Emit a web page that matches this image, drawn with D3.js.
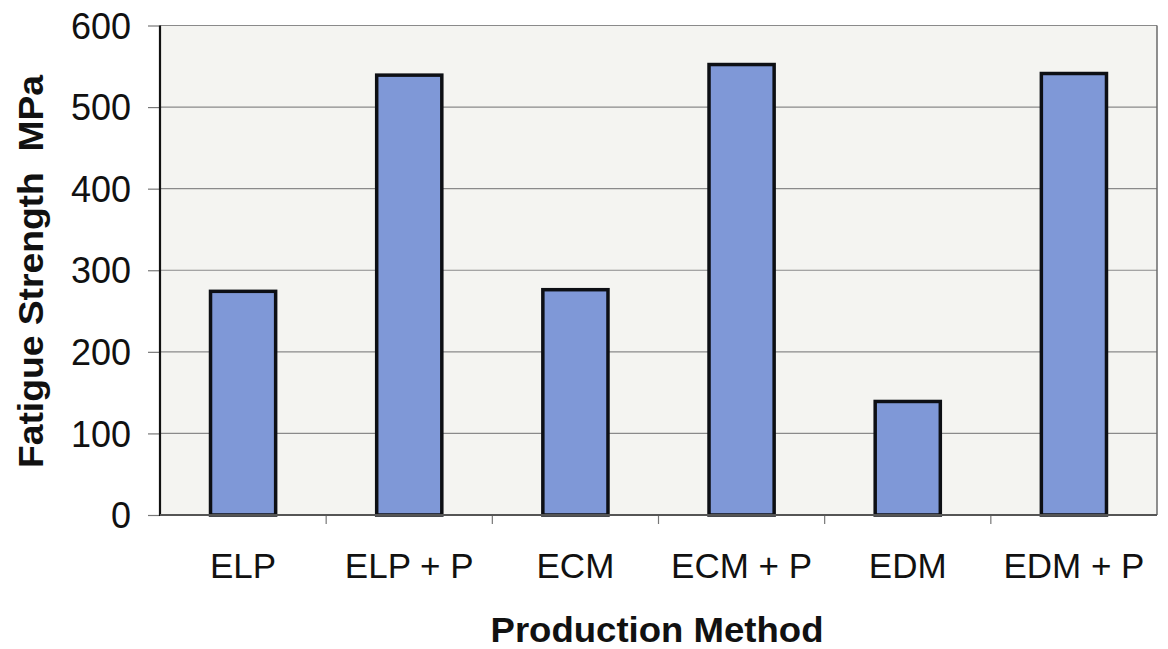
<!DOCTYPE html>
<html>
<head>
<meta charset="utf-8">
<script src="https://cdn.jsdelivr.net/npm/d3@7/dist/d3.min.js"></script>
<style>
  html, body { margin: 0; padding: 0; background: #ffffff; }
  svg { display: block; }
  text { font-family: "Liberation Sans", Arial, sans-serif; fill: #111; }
</style>
</head>
<body>
<svg id="chart" width="1168" height="649"></svg>
<script>
const categories = ["ELP", "ELP + P", "ECM", "ECM + P", "EDM", "EDM + P"];
const fatigueStrength = [276, 541, 278, 554, 141, 543];
const yTicks = [0, 100, 200, 300, 400, 500, 600];
const yTitle = "Fatigue Strength  MPa";
const xTitle = "Production Method";

(function () {
const svg = d3.select("#chart");
const pLeft = 160, pRight = 1157, pTop = 25.5, pBottom = 515;

const x = d3.scaleBand().domain(categories).range([pLeft, pRight])
  .paddingInner(0.59).paddingOuter(0.295);
const y = d3.scaleLinear().domain([0, 600]).range([pBottom, pTop]);

// plot background
svg.append("rect").attr("x", pLeft).attr("y", pTop)
  .attr("width", pRight - pLeft).attr("height", pBottom - pTop)
  .attr("fill", "#f4f4f1");

// gridlines
svg.append("g").selectAll("line").data(yTicks.filter(d => d > 0)).join("line")
  .attr("x1", pLeft).attr("x2", pRight)
  .attr("y1", d => y(d)).attr("y2", d => y(d))
  .attr("stroke", "#8a8a8a").attr("stroke-width", 1.2);

// right border
svg.append("line").attr("x1", pRight).attr("x2", pRight).attr("y1", pTop).attr("y2", pBottom)
  .attr("stroke", "#6a6a6a").attr("stroke-width", 1.5);

// bars
svg.append("g").selectAll("rect").data(categories).join("rect")
  .attr("x", d => x(d) + 1.5)
  .attr("width", x.bandwidth() - 3)
  .attr("y", (d, i) => y(fatigueStrength[i]) + 1.5)
  .attr("height", (d, i) => pBottom - y(fatigueStrength[i]) - 1.5)
  .attr("fill", "#7f98d7")
  .attr("stroke", "#0d0f14")
  .attr("stroke-width", 3.5);

// y axis
const yAxis = d3.axisLeft(y).tickValues(yTicks).tickSize(12).tickPadding(17);
const gy = svg.append("g").attr("transform", `translate(${pLeft},0)`).call(yAxis);
gy.select(".domain").remove();
gy.selectAll(".tick line").attr("stroke", "#777").attr("stroke-width", 1.2);
gy.selectAll(".tick text").attr("font-size", 36).attr("fill", "#111")
  .attr("font-family", "'Liberation Sans', Arial, sans-serif").attr("dy", "0.35em");
svg.append("line").attr("x1", pLeft).attr("x2", pLeft).attr("y1", pTop).attr("y2", pBottom + 1)
  .attr("stroke", "#111").attr("stroke-width", 2.2);

// x axis
const boundaries = categories.map(c => x(c) - x.step() * x.paddingInner() / 2).slice(1);
svg.append("g").selectAll("line").data(boundaries).join("line")
  .attr("x1", d => d).attr("x2", d => d).attr("y1", pBottom).attr("y2", pBottom + 9)
  .attr("stroke", "#777").attr("stroke-width", 1.2);
svg.append("line").attr("x1", pLeft).attr("x2", pRight).attr("y1", pBottom).attr("y2", pBottom)
  .attr("stroke", "#555").attr("stroke-width", 1.8);

svg.append("g").selectAll("text").data(categories).join("text")
  .attr("x", d => x(d) + x.bandwidth() / 2)
  .attr("y", 578)
  .attr("text-anchor", "middle")
  .attr("font-size", 35)
  .text(d => d);

// titles
svg.append("text")
  .attr("transform", "translate(43,271.5) rotate(-90)")
  .attr("text-anchor", "middle")
  .attr("font-size", 35).attr("font-weight", "bold")
  .attr("fill", "#222")
  .style("white-space", "pre")
  .attr("textLength", 393).attr("lengthAdjust", "spacingAndGlyphs")
  .text(yTitle);

svg.append("text")
  .attr("x", 657).attr("y", 641.5)
  .attr("text-anchor", "middle")
  .attr("font-size", 35).attr("font-weight", "bold")
  .attr("fill", "#222")
  .attr("textLength", 333).attr("lengthAdjust", "spacingAndGlyphs")
  .text(xTitle);
})();
</script>
</body>
</html>
